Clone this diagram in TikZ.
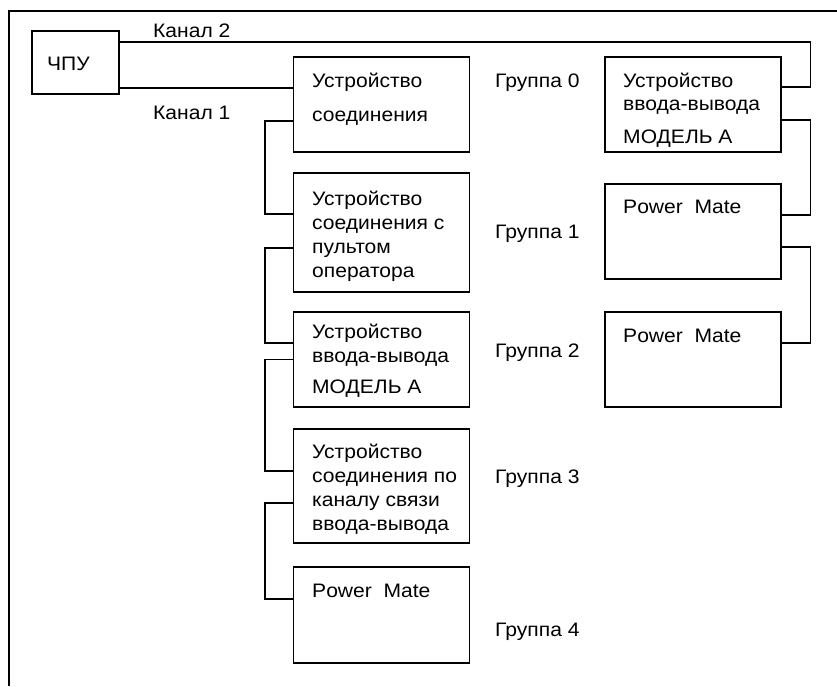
\documentclass[tikz,border=0pt]{standalone}
\usepackage{fontspec}
\setmainfont{Liberation Sans}[FakeStretch=1.08]
\begin{document}
\begin{tikzpicture}[x=1pt,y=-1pt,
  box/.style={draw, line width=1.1pt, inner sep=0pt, minimum width=176pt},
  conn/.style={line width=1.1pt},
  txt/.style={anchor=base west, inner sep=0pt, align=left,
    font=\fontsize{19.5}{24}\selectfont}]
\useasboundingbox (0,0) rectangle (837,686);
\draw[line width=2.6pt] (9,686) -- (9,11) -- (838,11);

% boxes
\node[box, minimum width=87pt, minimum height=63pt] (cnc) at (75.5,62.5) {};
\node[box, minimum height=95pt] (b0) at (381.5,104.5) {};
\node[box, minimum height=119pt] (b1) at (381.5,232.5) {};
\node[box, minimum height=95pt] (b2) at (381.5,359.5) {};
\node[box, minimum height=114pt] (b3) at (381.5,486) {};
\node[box, minimum height=96pt] (b4) at (381.5,615) {};
\node[box, minimum height=95pt] (r0) at (693,104.5) {};
\node[box, minimum height=95pt] (r1) at (693,231.5) {};
\node[box, minimum height=95pt] (r2) at (693,359.5) {};

% texts (anchored at the baseline of their last line)
\node[txt] (tcnc) at (47,70) {ЧПУ};
\node[txt] (k2) at (153,37) {Канал 2};
\node[txt] (k1) at (153,119) {Канал 1};
\node[txt] (tb0) at (312,121) {Устройство\\[10pt]соединения};
\node[txt] (tb1) at (312,277) {Устройство\\соединения с\\пультом\\оператора};
\node[txt] (tb2) at (312,393) {Устройство\\ввода-вывода\\[7pt]МОДЕЛЬ А};
\node[txt] (tb3) at (312,530) {Устройство\\соединения по\\каналу связи\\ввода-вывода};
\node[txt] (tb4) at (312,597) {Power\ \ Mate};
\node[txt] (tr0) at (623,143) {Устройство\\[-1pt]ввода-вывода\\[9pt]МОДЕЛЬ А};
\node[txt] (tr1) at (623,213) {Power\ \ Mate};
\node[txt] (tr2) at (623,342) {Power\ \ Mate};
\node[txt] (g0) at (495,87) {Группа 0};
\node[txt] (g1) at (495,238) {Группа 1};
\node[txt] (g2) at (495,357) {Группа 2};
\node[txt] (g3) at (495,483) {Группа 3};
\node[txt] (g4) at (495,636) {Группа 4};

% connectors
\draw[conn] ([yshift=-25.5pt]cnc.east) -- ([yshift=16.5pt]b0.west);
\draw[conn] ([yshift=20.5pt]cnc.east) -| ([xshift=29pt,yshift=17.5pt]r0.east) -- ([yshift=17.5pt]r0.east);
\draw[conn] ([yshift=-16.5pt]b0.west) -- ++(-28,0) |- ([yshift=18.5pt]b1.west);
\draw[conn] ([yshift=-15.5pt]b1.west) -- ++(-28,0) |- ([yshift=16.5pt]b2.west);
\draw[conn] (b2.west) -- ++(-28,0) |- ([yshift=15pt]b3.west);
\draw[conn] ([yshift=-17pt]b3.west) -- ++(-28,0) |- ([yshift=16pt]b4.west);
\draw[conn] ([yshift=-15.5pt]r0.east) -- ++(29,0) |- ([yshift=16.5pt]r1.east);
\draw[conn] ([yshift=-15.5pt]r1.east) -- ++(29,0) |- ([yshift=16.5pt]r2.east);
\end{tikzpicture}
\end{document}
